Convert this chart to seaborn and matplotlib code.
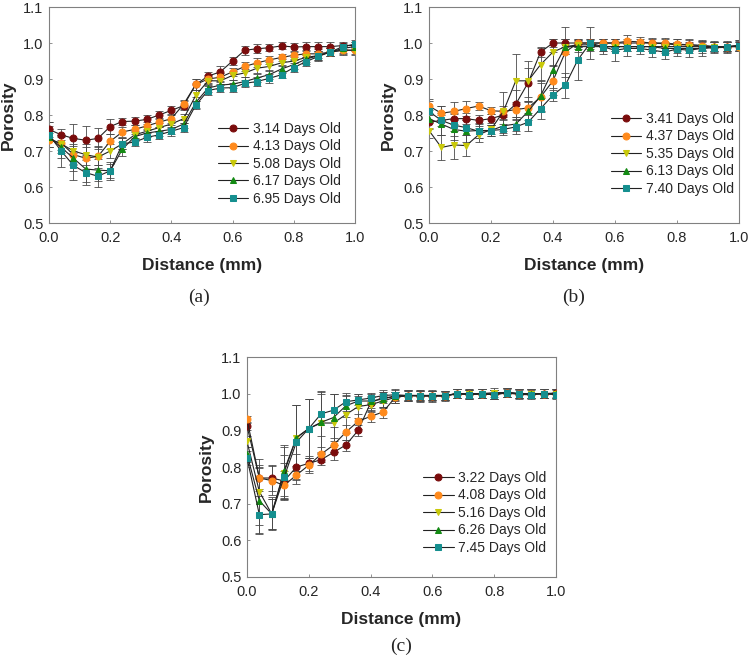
import numpy as np
import pandas as pd
import matplotlib
matplotlib.use("Agg")
import matplotlib.pyplot as plt
import seaborn as sns

# distance positions (mm)
distance = [round(0.04 * i, 2) for i in range(26)]

colors = ["#7a0c0c", "#ff8a1c", "#c9c90a", "#138a13", "#158f8f"]
markers = ["o", "o", "v", "^", "s"]

# ---- panel (a)
labels_a = ["3.14 Days Old", "4.13 Days Old", "5.08 Days Old", "6.17 Days Old", "6.95 Days Old"]
a_1 = [0.76, 0.745, 0.735, 0.73, 0.735, 0.768, 0.782, 0.783, 0.788, 0.80, 0.813, 0.826, 0.885,
       0.908, 0.92, 0.95, 0.98, 0.984, 0.987, 0.992, 0.989, 0.99, 0.99, 0.99, 0.993, 0.993]
a_2 = [0.73, 0.722, 0.69, 0.68, 0.685, 0.727, 0.753, 0.76, 0.77, 0.78, 0.79, 0.83, 0.885,
       0.90, 0.905, 0.92, 0.935, 0.945, 0.953, 0.96, 0.966, 0.97, 0.97, 0.975, 0.98, 0.98]
a_3 = [0.735, 0.72, 0.70, 0.69, 0.683, 0.70, 0.72, 0.745, 0.755, 0.765, 0.775, 0.79, 0.855,
       0.895, 0.895, 0.91, 0.917, 0.93, 0.935, 0.945, 0.95, 0.96, 0.965, 0.975, 0.98, 0.98]
a_4 = [0.74, 0.71, 0.68, 0.65, 0.647, 0.645, 0.705, 0.74, 0.75, 0.755, 0.76, 0.775, 0.835,
       0.875, 0.883, 0.886, 0.893, 0.903, 0.912, 0.928, 0.94, 0.955, 0.965, 0.975, 0.985, 0.99]
a_5 = [0.745, 0.70, 0.66, 0.64, 0.63, 0.645, 0.72, 0.725, 0.738, 0.745, 0.755, 0.765, 0.828,
       0.868, 0.875, 0.876, 0.888, 0.893, 0.902, 0.912, 0.932, 0.948, 0.963, 0.975, 0.99, 0.997]
ea_1 = [0.02, 0.015, 0.04, 0.04, 0.03, 0.02, 0.01, 0.012, 0.012, 0.01, 0.012, 0.012, 0.015,
        0.012, 0.015, 0.012, 0.012, 0.012, 0.01, 0.01, 0.01, 0.012, 0.012, 0.012, 0.01, 0.01]
ea_2 = [0.02, 0.02, 0.03, 0.03, 0.025, 0.02, 0.015, 0.012, 0.012, 0.012, 0.012, 0.012, 0.015,
        0.012, 0.012, 0.012, 0.012, 0.012, 0.01, 0.01, 0.01, 0.01, 0.012, 0.012, 0.01, 0.01]
ea_3 = [0.025, 0.025, 0.035, 0.03, 0.03, 0.02, 0.015, 0.012, 0.012, 0.012, 0.012, 0.012, 0.015,
        0.012, 0.012, 0.012, 0.012, 0.012, 0.012, 0.01, 0.01, 0.012, 0.012, 0.012, 0.012, 0.012]
ea_4 = [0.03, 0.03, 0.035, 0.035, 0.03, 0.025, 0.02, 0.012, 0.012, 0.012, 0.012, 0.012, 0.015,
        0.012, 0.012, 0.012, 0.012, 0.012, 0.012, 0.012, 0.012, 0.012, 0.012, 0.012, 0.012, 0.012]
ea_5 = [0.035, 0.045, 0.04, 0.035, 0.03, 0.02, 0.015, 0.012, 0.012, 0.012, 0.012, 0.012, 0.012,
        0.012, 0.012, 0.012, 0.01, 0.012, 0.012, 0.01, 0.012, 0.012, 0.012, 0.01, 0.01, 0.01]

# ---- panel (b)
labels_b = ["3.41 Days Old", "4.37 Days Old", "5.35 Days Old", "6.13 Days Old", "7.40 Days Old"]
b_1 = [0.78, 0.785, 0.79, 0.79, 0.785, 0.79, 0.80, 0.83, 0.89, 0.975, 1.0, 1.0, 1.0,
       1.0, 1.0, 1.0, 1.0, 1.0, 1.0, 0.998, 0.995, 0.995, 0.993, 0.99, 0.99, 0.993]
b_2 = [0.825, 0.805, 0.81, 0.818, 0.825, 0.812, 0.81, 0.815, 0.82, 0.85, 0.895, 0.975, 1.0,
       1.0, 1.0, 1.0, 1.005, 1.003, 1.0, 1.0, 0.997, 0.995, 0.993, 0.99, 0.99, 0.99]
b_3 = [0.757, 0.71, 0.717, 0.715, 0.745, 0.76, 0.81, 0.895, 0.895, 0.94, 0.975, 0.99, 0.995,
       0.995, 0.99, 0.99, 0.99, 0.99, 0.99, 0.99, 0.99, 0.99, 0.99, 0.99, 0.99, 0.99]
b_4 = [0.79, 0.775, 0.76, 0.755, 0.757, 0.757, 0.77, 0.775, 0.81, 0.853, 0.925, 0.99, 0.99,
       0.99, 0.99, 0.99, 0.99, 0.99, 0.99, 0.985, 0.985, 0.985, 0.985, 0.99, 0.99, 0.993]
b_5 = [0.81, 0.785, 0.772, 0.765, 0.755, 0.757, 0.76, 0.767, 0.78, 0.818, 0.855, 0.883, 0.953,
       1.0, 0.99, 0.98, 0.985, 0.985, 0.98, 0.975, 0.983, 0.98, 0.985, 0.987, 0.988, 0.993]
eb_1 = [0.02, 0.015, 0.015, 0.015, 0.015, 0.012, 0.015, 0.04, 0.04, 0.015, 0.012, 0.012, 0.012,
        0.012, 0.012, 0.012, 0.012, 0.012, 0.012, 0.012, 0.015, 0.015, 0.015, 0.015, 0.015, 0.015]
eb_2 = [0.02, 0.02, 0.025, 0.02, 0.012, 0.01, 0.015, 0.02, 0.02, 0.04, 0.04, 0.07, 0.012,
        0.012, 0.012, 0.012, 0.018, 0.015, 0.015, 0.015, 0.015, 0.012, 0.012, 0.012, 0.012, 0.012]
eb_3 = [0.02, 0.035, 0.04, 0.03, 0.02, 0.012, 0.055, 0.075, 0.055, 0.045, 0.035, 0.02, 0.012,
        0.012, 0.012, 0.012, 0.012, 0.012, 0.012, 0.012, 0.012, 0.012, 0.012, 0.012, 0.012, 0.012]
eb_4 = [0.025, 0.03, 0.03, 0.03, 0.02, 0.015, 0.02, 0.02, 0.025, 0.045, 0.05, 0.02, 0.015,
        0.012, 0.012, 0.012, 0.012, 0.012, 0.012, 0.012, 0.012, 0.012, 0.012, 0.012, 0.012, 0.012]
eb_5 = [0.03, 0.04, 0.03, 0.02, 0.02, 0.015, 0.015, 0.02, 0.025, 0.03, 0.015, 0.035, 0.055,
        0.045, 0.02, 0.03, 0.02, 0.015, 0.02, 0.02, 0.02, 0.02, 0.02, 0.015, 0.015, 0.015]

# ---- panel (c)
labels_c = ["3.22 Days Old", "4.08 Days Old", "5.16 Days Old", "6.26 Days Old", "7.45 Days Old"]
c_1 = [0.912, 0.77, 0.77, 0.762, 0.80, 0.81, 0.82, 0.84, 0.86, 0.90, 0.975, 0.99, 0.99,
       0.995, 0.995, 0.995, 0.995, 1.0, 0.998, 1.0, 0.998, 1.003, 1.0, 1.0, 1.0, 1.002]
c_2 = [0.93, 0.77, 0.763, 0.75, 0.778, 0.805, 0.835, 0.86, 0.895, 0.925, 0.938, 0.95, 0.99,
       0.995, 0.995, 0.995, 0.995, 1.0, 0.998, 1.0, 0.998, 1.003, 1.0, 1.0, 1.0, 1.0]
c_3 = [0.87, 0.733, 0.672, 0.785, 0.88, 0.905, 0.92, 0.92, 0.943, 0.965, 0.97, 0.98, 0.99,
       0.995, 0.995, 0.995, 0.995, 1.0, 1.0, 1.0, 1.003, 1.003, 1.0, 1.0, 1.0, 1.0]
c_4 = [0.835, 0.708, 0.672, 0.79, 0.88, 0.905, 0.922, 0.935, 0.967, 0.98, 0.98, 0.985, 0.995,
       0.995, 0.995, 0.995, 0.995, 1.0, 1.0, 1.0, 0.998, 1.003, 1.0, 1.0, 1.0, 1.0]
c_5 = [0.825, 0.67, 0.672, 0.772, 0.868, 0.905, 0.945, 0.955, 0.978, 0.983, 0.988, 0.995, 0.997,
       0.995, 0.993, 0.993, 0.993, 1.0, 0.997, 1.0, 0.997, 1.002, 0.998, 0.997, 1.0, 0.997]
ec_1 = [0.01, 0.03, 0.035, 0.05, 0.035, 0.02, 0.015, 0.02, 0.015, 0.015, 0.02, 0.015, 0.015,
        0.012, 0.012, 0.015, 0.012, 0.012, 0.012, 0.012, 0.012, 0.012, 0.012, 0.012, 0.012, 0.012]
ec_2 = [0.01, 0.035, 0.04, 0.04, 0.025, 0.02, 0.02, 0.02, 0.02, 0.02, 0.015, 0.015, 0.015,
        0.012, 0.012, 0.012, 0.012, 0.012, 0.012, 0.012, 0.012, 0.012, 0.012, 0.012, 0.012, 0.012]
ec_3 = [0.015, 0.09, 0.045, 0.07, 0.09, 0.08, 0.08, 0.08, 0.05, 0.03, 0.02, 0.02, 0.015,
        0.015, 0.015, 0.012, 0.012, 0.012, 0.012, 0.012, 0.012, 0.012, 0.012, 0.012, 0.012, 0.012]
ec_4 = [0.02, 0.09, 0.04, 0.07, 0.09, 0.08, 0.085, 0.065, 0.03, 0.02, 0.02, 0.02, 0.015,
        0.015, 0.015, 0.012, 0.012, 0.012, 0.012, 0.012, 0.012, 0.012, 0.012, 0.012, 0.012, 0.012]
ec_5 = [0.02, 0.05, 0.04, 0.06, 0.1, 0.08, 0.06, 0.045, 0.025, 0.015, 0.015, 0.015, 0.015,
        0.015, 0.015, 0.015, 0.012, 0.012, 0.012, 0.012, 0.012, 0.012, 0.012, 0.012, 0.012, 0.012]

sns.set_style("ticks")
plt.rcParams['font.family'] = ['Liberation Sans', 'DejaVu Sans']

fig = plt.figure(figsize=(7.48, 6.62), dpi=100)

panels = [
    ([0.0655, 0.6631, 0.409, 0.3263], labels_a, [a_1, a_2, a_3, a_4, a_5],
     [ea_1, ea_2, ea_3, ea_4, ea_5], (0.552, 0.468), "(a)", (0.266, 0.551)),
    ([0.5735, 0.6631, 0.4144, 0.3263], labels_b, [b_1, b_2, b_3, b_4, b_5],
     [eb_1, eb_2, eb_3, eb_4, eb_5], (0.587, 0.514), "(b)", (0.767, 0.551)),
    ([0.3302, 0.1284, 0.4131, 0.3323], labels_c, [c_1, c_2, c_3, c_4, c_5],
     [ec_1, ec_2, ec_3, ec_4, ec_5], (0.57, 0.482), "(c)", (0.536, 0.024)),
]

for rect, labels, series, errs, leg_pos, cap, cap_pos in panels:
    ax = fig.add_axes(rect)
    for y, e in zip(series, errs):
        ax.errorbar(distance, y, yerr=e, fmt='none', ecolor='#4a4a4a',
                    elinewidth=0.6, capsize=3, capthick=0.6, zorder=2)
    for y, lbl, c, m in zip(series, labels, colors, markers):
        df = pd.DataFrame({"Distance": distance, "Porosity": y})
        sns.lineplot(data=df, x="Distance", y="Porosity", ax=ax, color='#222222',
                     lw=0.8, marker=m, markersize=5, markerfacecolor=c,
                     markeredgecolor=c, label=lbl, zorder=3)
    ax.set_xlim(0, 1.0)
    ax.set_ylim(0.5, 1.1)
    ax.set_xticks(np.arange(0, 1.01, 0.2))
    ax.set_yticks(np.arange(0.5, 1.11, 0.1))
    ax.xaxis.set_major_formatter(matplotlib.ticker.FormatStrFormatter('%.1f'))
    ax.yaxis.set_major_formatter(matplotlib.ticker.FormatStrFormatter('%.1f'))
    ax.tick_params(direction='in', length=2.5, width=0.6, color='#808080',
                   labelsize=10.5)
    ax.tick_params(axis='x', pad=6)
    ax.tick_params(axis='y', pad=4)
    for s in ax.spines.values():
        s.set_color('#808080')
        s.set_linewidth(0.8)
        s.set_visible(True)
    ax.set_xlabel("Distance (mm)", fontsize=12.5, fontweight='bold', labelpad=9)
    ax.set_ylabel("Porosity", fontsize=12.5, fontweight='bold', labelpad=5)
    ax.legend(loc='upper left', bbox_to_anchor=leg_pos, frameon=False, fontsize=10,
              borderpad=0, borderaxespad=0, labelspacing=0.25, handlelength=2.2,
              handletextpad=0.3)
    fig.text(cap_pos[0], cap_pos[1], cap, ha='center', va='center', fontsize=14,
             family=['Liberation Serif', 'DejaVu Serif'])

fig.savefig("out.png", dpi=100)
